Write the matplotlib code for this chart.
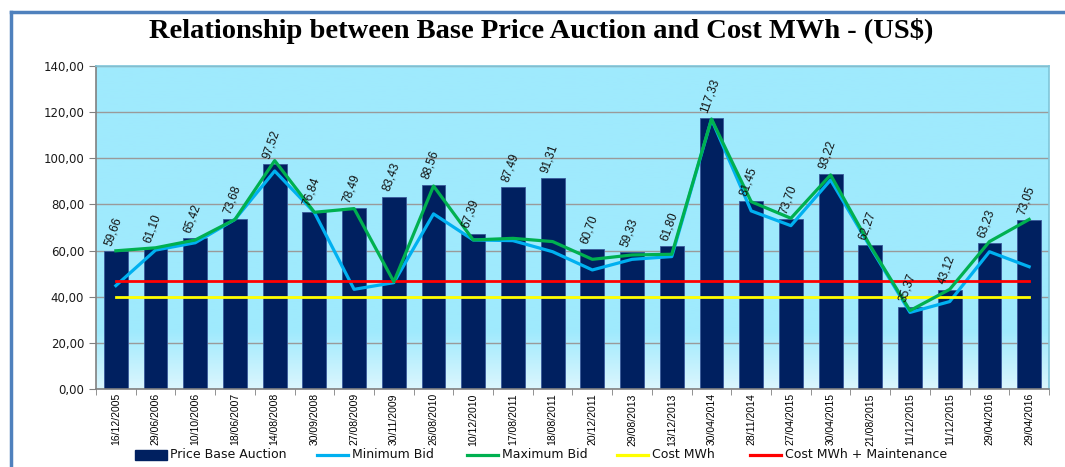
import numpy as np
import matplotlib.pyplot as plt
from matplotlib.patches import Rectangle
from matplotlib.lines import Line2D
from matplotlib.colors import LinearSegmentedColormap

# -------------------------
# Data
# -------------------------
dates = ["16/12/2005", "29/06/2006", "10/10/2006", "18/06/2007", "14/08/2008",
         "30/09/2008", "27/08/2009", "30/11/2009", "26/08/2010", "10/12/2010",
         "17/08/2011", "18/08/2011", "20/12/2011", "29/08/2013", "13/12/2013",
         "30/04/2014", "28/11/2014", "27/04/2015", "30/04/2015", "21/08/2015",
         "11/12/2015", "11/12/2015", "29/04/2016", "29/04/2016"]

price_base = [59.66, 61.10, 65.42, 73.68, 97.52, 76.84, 78.49, 83.43, 88.56, 67.39,
              87.49, 91.31, 60.70, 59.33, 61.80, 117.33, 81.45, 73.70, 93.22, 62.27,
              35.37, 43.12, 63.23, 73.05]

min_bid = [44.8, 60.2, 63.4, 73.5, 94.5, 76.5, 43.2, 46.1, 75.9, 64.6,
           64.3, 59.5, 51.6, 56.2, 57.4, 116.9, 77.2, 70.8, 90.6, 61.5,
           33.2, 37.9, 59.5, 53.0]

max_bid = [59.9, 61.2, 64.6, 73.5, 99.0, 76.6, 78.2, 46.5, 88.0, 64.6,
           65.3, 63.9, 56.2, 58.1, 58.4, 117.0, 81.2, 74.0, 92.8, 62.0,
           34.0, 43.2, 63.9, 73.5]

cost_mwh = 40.0
cost_mwh_maint = 47.0

labels_fmt = [f"{v:.2f}".replace(".", ",") for v in price_base]

W, H = 1065, 467

# -------------------------
# Figure
# -------------------------
fig = plt.figure(figsize=(W / 100, H / 100), dpi=100)
fig.patch.set_facecolor("white")

# outer chart border (blue, cropped on right/bottom)
fig.add_artist(Line2D([11 / W, 11 / W], [0, 1 - 12 / H], color="#4F81BD", lw=2.5,
                      transform=fig.transFigure))
fig.add_artist(Line2D([11 / W, 1], [1 - 12 / H, 1 - 12 / H], color="#4F81BD", lw=2.5,
                      transform=fig.transFigure))

ax = fig.add_axes([96 / W, 1 - 389 / H, (1049 - 96) / W, (389 - 66) / H])

x = np.arange(len(dates))

# gradient background
n = 200
vals = np.linspace(140, 0, n)
frac = np.clip((25 - vals) / 25, 0, 1)
cmap = LinearSegmentedColormap.from_list("bg", ["#9FEAFD", "#DBF6FE"])
ax.imshow(frac[:, None], aspect="auto", cmap=cmap, extent=[-0.5, len(dates) - 0.5, 0, 140],
          zorder=0, vmin=0, vmax=1)

ax.set_xlim(-0.5, len(dates) - 0.5)
ax.set_ylim(0, 140)
ax.set_yticks(np.arange(0, 141, 20))
ax.set_yticklabels([f"{v:.2f}".replace(".", ",") for v in np.arange(0, 141, 20)],
                   fontsize=8.5, color="#1a1a1a")
ax.grid(axis="y", color="#9A9A9A", lw=1.0, zorder=1)
ax.set_axisbelow(True)

ax.bar(x, price_base, width=0.6, color="#002060", edgecolor="#3a5a9a", lw=0.6, zorder=2)

ax.plot(x, min_bid, color="#00B0F0", lw=2.3, zorder=3)
ax.plot(x, max_bid, color="#00B050", lw=2.3, zorder=4)
ax.plot([x[0], x[-1]], [cost_mwh, cost_mwh], color="#FFFF00", lw=2, zorder=3)
ax.plot([x[0], x[-1]], [cost_mwh_maint, cost_mwh_maint], color="#FF0000", lw=2, zorder=3)

for xi, v, s in zip(x, price_base, labels_fmt):
    ax.text(xi - 0.2, v + 2.5, s, rotation=70, fontsize=8.5, ha="left", va="center",
            rotation_mode="anchor", color="#111111", zorder=5, family="Liberation Sans")

ax.set_xticks(x)
ax.set_xticklabels(dates, rotation=90, fontsize=7.5, family="Liberation Sans")
ax.tick_params(axis="x", length=0, pad=3)
ax.set_xticks(np.arange(-0.5, len(dates), 1), minor=True)
ax.tick_params(axis="x", which="minor", length=4, color="#808080")
ax.tick_params(axis="y", length=5, color="#808080", direction="out")

for side in ["top", "right"]:
    ax.spines[side].set_color("#7FC6DA")
    ax.spines[side].set_linewidth(1.2)
for side in ["left", "bottom"]:
    ax.spines[side].set_color("#808080")
    ax.spines[side].set_linewidth(1.2)

fig.text(0.508, 1 - 31 / H, "Relationship between Base Price Auction and Cost MWh - (US$)",
         ha="center", va="center", fontsize=20.5, fontweight="bold",
         family=["Liberation Serif", "DejaVu Serif"])

# legend, laid out by hand as in the source
names = ["Price Base Auction", "Minimum Bid", "Maximum Bid", "Cost MWh", "Cost MWh + Maintenance"]
colors = ["#002060", "#00B0F0", "#00B050", "#FFFF00", "#FF0000"]
starts = [135, 317, 467, 617, 750]
ly = 1 - 455 / H
for i, (name, c, sx) in enumerate(zip(names, colors, starts)):
    if i == 0:
        fig.add_artist(Rectangle((sx / W, ly - 5 / H), 32 / W, 10 / H, color=c,
                                 transform=fig.transFigure))
    else:
        fig.add_artist(Line2D([sx / W, (sx + 31) / W], [ly, ly], color=c, lw=2.3,
                              transform=fig.transFigure))
    fig.text((sx + 35) / W, ly, name, ha="left", va="center", fontsize=9, color="#111111")

fig.savefig("out.png", dpi=100)
